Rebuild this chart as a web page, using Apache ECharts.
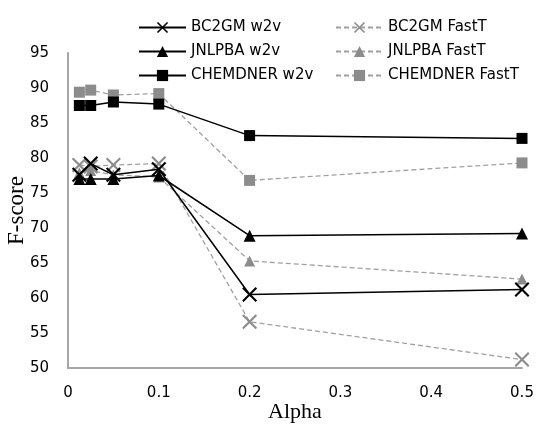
<!DOCTYPE html>
<html>
<head>
<meta charset="utf-8">
<script src="https://cdn.jsdelivr.net/npm/echarts@6/dist/echarts.min.js"></script>
<style>
  html, body { margin: 0; padding: 0; background: #fff; }
  #chart { width: 542px; height: 426px; }
</style>
</head>
<body>
<div id="chart"></div>
<script>
  // alpha values on the x axis
  const alphas = [0.0125, 0.025, 0.05, 0.1, 0.2, 0.5];

  // F-score per series
  const bc2gmW2v = [77.6, 79.2, 77.6, 78.4, 60.5, 61.2];
  const bc2gmFast = [79.0, 78.8, 79.0, 79.2, 56.6, 51.2];
  const jnlpbaW2v = [77.0, 77.0, 77.0, 77.5, 68.9, 69.2];
  const jnlpbaFast = [77.9, 78.2, 77.6, 77.3, 65.3, 62.7];
  const chemW2v = [87.5, 87.5, 88.0, 87.7, 83.2, 82.8];
  const chemFast = [89.4, 89.7, 89.0, 89.2, 76.8, 79.3];

  const yTicks = [50, 55, 60, 65, 70, 75, 80, 85, 90, 95];

  const pairs = (ys) => alphas.map((a, i) => [a, ys[i]]);

  const crossPath = 'path://M0,1L1,0L10,9L9,10Z M9,0L10,1L1,10L0,9Z';
  const black = '#000';
  const gray = '#8c8c8c';

  const solid = (name, ys, symbol, size) => ({
    name: name, type: 'line', data: pairs(ys),
    symbol: symbol, symbolSize: size,
    itemStyle: { color: black },
    lineStyle: { color: black, width: 1.5, type: 'solid' },
    z: 3
  });
  const dashed = (name, ys, symbol, size) => ({
    name: name, type: 'line', data: pairs(ys),
    symbol: symbol, symbolSize: size,
    itemStyle: { color: gray },
    lineStyle: { color: '#a0a0a0', width: 1.3, type: [5, 3] },
    z: 2
  });

  const chart = echarts.init(document.getElementById('chart'));
  const legendText = { fontFamily: 'DejaVu Sans', fontSize: 15, color: '#000' };
  const tickFont = { fontFamily: 'DejaVu Sans', fontSize: 15, color: '#000' };
  chart.setOption({
    animation: false,
    grid: { left: 68, right: 20, top: 53, bottom: 58, outerBoundsMode: 'none', containLabel: false },
    legend: [
      {
        orient: 'vertical', left: 133, top: 15, itemWidth: 47, itemHeight: 14, itemGap: 9,
        textStyle: legendText,
        data: ['BC2GM w2v', 'JNLPBA w2v', 'CHEMDNER w2v']
      },
      {
        orient: 'vertical', left: 330, top: 15, itemWidth: 47, itemHeight: 14, itemGap: 9,
        textStyle: legendText,
        data: ['BC2GM FastT', 'JNLPBA FastT', 'CHEMDNER FastT']
      }
    ],
    xAxis: {
      type: 'value', min: 0, max: 0.5, interval: 0.1,
      name: 'Alpha', nameLocation: 'middle', nameGap: 33, nameMoveOverlap: false,
      nameTextStyle: { fontFamily: 'Liberation Serif', fontSize: 22, color: '#000' },
      axisLine: { show: true, lineStyle: { color: '#a6a6a6', width: 2 } },
      axisTick: { show: false },
      splitLine: { show: false },
      axisLabel: Object.assign({}, tickFont, {
        margin: 18,
        formatter: (v) => (v === 0 ? '0' : String(+v.toFixed(1)))
      })
    },
    yAxis: {
      type: 'value', min: yTicks[0], max: yTicks[yTicks.length - 1], interval: 5,
      name: 'F-score', nameLocation: 'middle', nameGap: 40, nameMoveOverlap: false,
      nameTextStyle: { fontFamily: 'Liberation Serif', fontSize: 23, color: '#000' },
      axisLine: { show: true, lineStyle: { color: '#a6a6a6', width: 2 } },
      axisTick: { show: false },
      splitLine: { show: false },
      axisLabel: Object.assign({}, tickFont, { margin: 19 })
    },
    series: [
      solid('BC2GM w2v', bc2gmW2v, crossPath, 15),
      dashed('BC2GM FastT', bc2gmFast, crossPath, 15),
      solid('JNLPBA w2v', jnlpbaW2v, 'triangle', 12),
      dashed('JNLPBA FastT', jnlpbaFast, 'triangle', 11),
      solid('CHEMDNER w2v', chemW2v, 'rect', 11),
      dashed('CHEMDNER FastT', chemFast, 'rect', 11)
    ]
  });
</script>
</body>
</html>
